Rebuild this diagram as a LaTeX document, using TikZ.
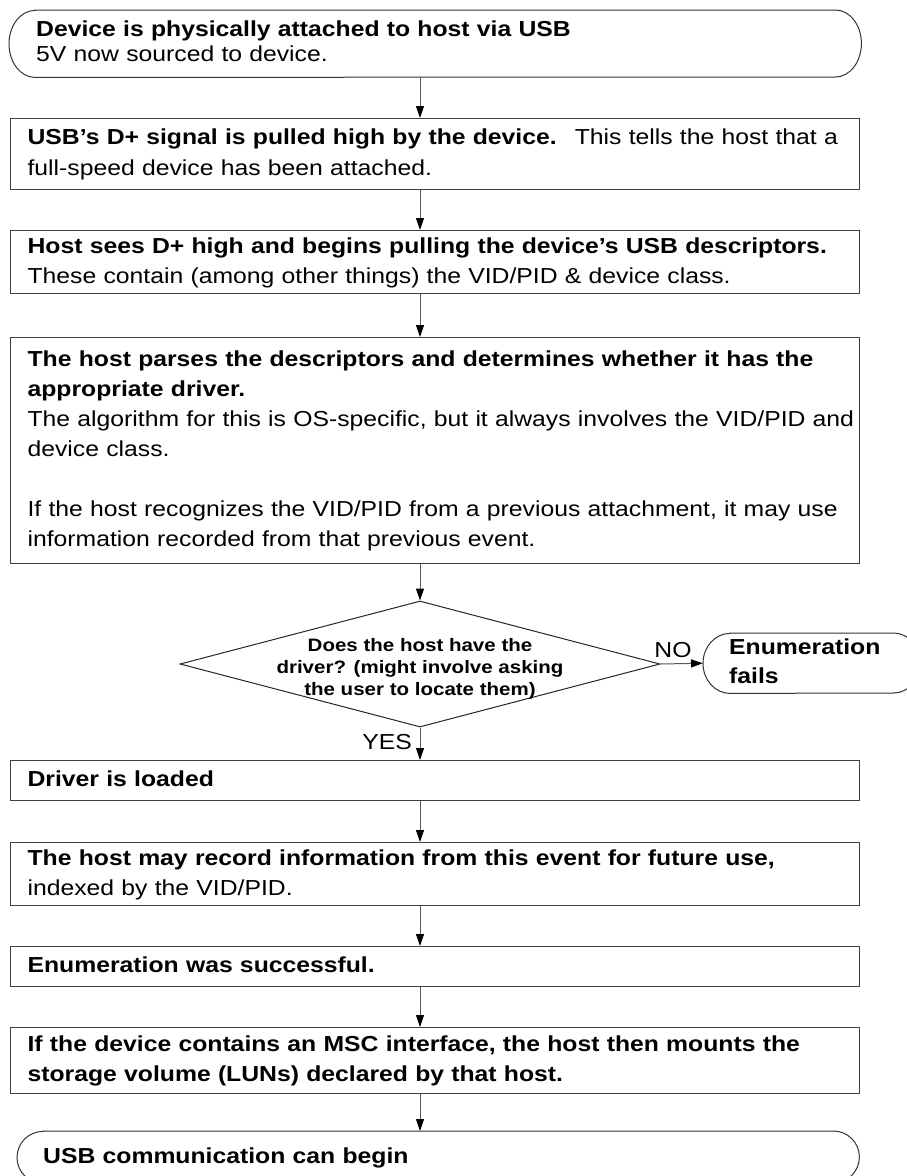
\documentclass[tikz,border=0pt]{standalone}
\usepackage{fontspec}
\setmainfont{Liberation Sans}[FakeStretch=1.14]
\usetikzlibrary{arrows.meta,shapes.geometric}
\newcommand\termoutline[3]{%
  \draw[termline] ([xshift=#2]#1.north west) -- ([xshift=-#2]#1.north east)
    arc[start angle=90,end angle=-90,x radius=#2,y radius=#3]
    -- ([xshift=#2]#1.south west)
    arc[start angle=270,end angle=90,x radius=#2,y radius=#3] -- cycle;}
\begin{document}
\begin{tikzpicture}[x=1pt,y=-1pt,
  bx/.style={draw=black!75, line width=1.2pt, align=left, text width=841pt,
    inner xsep=4pt, inner ysep=0pt, anchor=north west,
    font=\fontsize{21.7pt}{30pt}\selectfont,
    execute at begin node={\leftskip=13pt\rightskip=-40pt plus 1fil\relax\strut},
    execute at end node={\strut}},
  term/.style={draw=none, align=left, inner xsep=0pt, inner ysep=0pt, anchor=north west,
    font=\fontsize{21.7pt}{30pt}\selectfont,
    execute at begin node={\leftskip=#1\rightskip=-40pt plus 1fil\relax\strut},
    execute at end node={\strut}},
  termline/.style={draw=black!80, line width=1pt},
  lbl/.style={font=\fontsize{21.7pt}{26pt}\selectfont, inner sep=0pt},
  arr/.style={draw=black!65, line width=1pt, -{Triangle[width=8pt,length=12pt,color=black]}},
]
\useasboundingbox (0,0) rectangle (906,1176);
\coordinate (ax) at (420,0);

% top terminator
\node[term=27pt, text width=852pt, minimum height=67pt,
  font=\fontsize{21.7pt}{25pt}\selectfont] (t1) at (9,10)
  {\textbf{Device is physically attached to host via USB}\\5V now sourced to device.};
\termoutline{t1}{26pt}{33.5pt}

\node[bx, minimum height=71pt, font=\fontsize{21.7pt}{31pt}\selectfont] (b2) at (10,118)
  {\textbf{USB’s D+ signal is pulled high by the device.}~ This tells the host that a\\
   full-speed device has been attached.};

\node[bx, minimum height=63pt] (b3) at (10,230)
  {\textbf{Host sees D+ high and begins pulling the device’s USB descriptors.}\\
   These contain (among other things) the VID/PID \& device class.};

\node[bx, minimum height=226pt] (b4) at (10,337)
  {\textbf{The host parses the descriptors and determines whether it has the}\\
   \textbf{appropriate driver.}\\
   The algorithm for this is OS-specific, but it always involves the VID/PID and\\
   device class.\\[30pt]
   If the host recognizes the VID/PID from a previous attachment, it may use\\
   information recorded from that previous event.};

% decision
\node[diamond, draw=black!85, line width=1pt, minimum width=480pt, minimum height=126pt,
  inner sep=0pt] (dec) at (420,664) {};
\node[align=center, inner sep=0pt, font=\fontsize{18pt}{22pt}\selectfont\bfseries,
  execute at begin node=\strut, execute at end node=\strut] (dect) at (420,670)
  {Does the host have the\\driver? (might involve asking\\the user to locate them)};

\node[term=26pt, text width=217pt, minimum height=60pt,
  font=\fontsize{21.7pt}{29pt}\selectfont\bfseries] (ef) at (703,633)
  {Enumeration\\fails};
\termoutline{ef}{27pt}{30pt}

\node[lbl] (no) at (673,650) {NO};
\node[lbl] (yes) at (387,742) {YES};

\node[bx, minimum height=40pt] (b5) at (10,760) {\textbf{Driver is loaded}};

\node[bx, minimum height=63pt] (b6) at (10,842)
  {\textbf{The host may record information from this event for future use,}\\
   indexed by the VID/PID.};

\node[bx, minimum height=40pt] (b7) at (10,946) {\textbf{Enumeration was successful.}};

\node[bx, minimum height=66pt] (b8) at (10,1027)
  {\textbf{If the device contains an MSC interface, the host then mounts the}\\
   \textbf{storage volume (LUNs) declared by that host.}};

\node[term=26pt, text width=842pt, minimum height=52pt,
  font=\fontsize{21.7pt}{30pt}\selectfont\bfseries] (t2) at (17,1131)
  {USB communication can begin};
\termoutline{t2}{26pt}{26pt}

% connectors
\draw[arr] (t1.south -| ax) -- (b2.north -| ax);
\draw[arr] (b2.south -| ax) -- (b3.north -| ax);
\draw[arr] (b3.south -| ax) -- (b4.north -| ax);
\draw[arr] (b4.south -| ax) -- (dec.north);
\draw[arr] (dec.east) -- (ef.west);
\draw[arr] (dec.south) -- (b5.north -| ax);
\draw[arr] (b5.south -| ax) -- (b6.north -| ax);
\draw[arr] (b6.south -| ax) -- (b7.north -| ax);
\draw[arr] (b7.south -| ax) -- (b8.north -| ax);
\draw[arr] (b8.south -| ax) -- (t2.north -| ax);
\end{tikzpicture}
\end{document}
